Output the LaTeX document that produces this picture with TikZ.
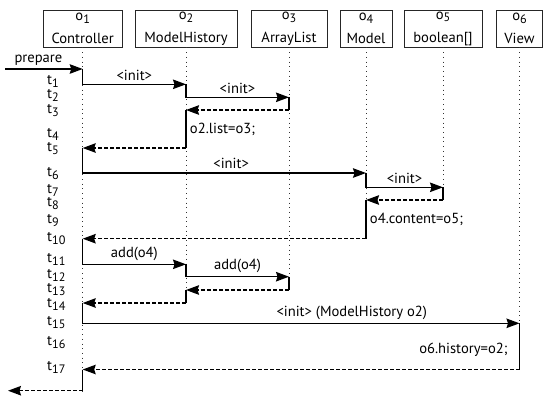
\documentclass[tikz,border=0pt]{standalone}
\usepackage{fontspec}
\setmainfont{PT Sans}
\usetikzlibrary{arrows.meta}
\newcommand{\tsub}[1]{\raisebox{-0.4ex}[0pt][0pt]{\fontsize{12.2}{12}\selectfont#1}}
\newcommand{\seqfont}{\fontsize{14.6}{23}\selectfont}

\begin{document}
\begin{tikzpicture}[x=1pt,y=-1pt,font=\seqfont,
  objbox/.style={draw=black!85,line width=0.8pt,minimum height=37pt,inner sep=0pt,align=center},
  lifeline/.style={black!80,line width=0.9pt,dash pattern=on 0.9pt off 3.8pt},
  act/.style={black,line width=1.3pt},
  call/.style={act,-{Stealth[length=13pt,width=9.5pt,inset=1.5pt]}},
  ret/.style={call,dash pattern=on 4pt off 2pt},
  tlabel/.style={anchor=west,inner sep=0pt}]
\useasboundingbox (0,0) rectangle (543,400);
\pgfmathsetmacro{\boxy}{28.5}

% objects
\node[objbox,minimum width=79pt] (o1) at (82.7,\boxy) {o\tsub{1}\\Controller};
\node[objbox,minimum width=102pt] (o2) at (186,\boxy) {o\tsub{2}\\ModelHistory};
\node[objbox,minimum width=76pt] (o3) at (289,\boxy) {o\tsub{3}\\ArrayList};
\node[objbox,minimum width=52pt] (o4) at (366,\boxy) {o\tsub{4}\\Model};
\node[objbox,minimum width=78pt] (o5) at (443,\boxy) {o\tsub{5}\\boolean[]};
\node[objbox,minimum width=46pt] (o6) at (519.5,\boxy) {o\tsub{6}\\View};

% message rows
\coordinate (in) at (5,69);
\coordinate (m0) at (0,69);
\coordinate (m1) at (0,84.3);
\coordinate (m2) at (0,97.3);
\coordinate (m3) at (0,110);
\coordinate (m5) at (0,148);
\coordinate (m6) at (0,173);
\coordinate (m7) at (0,187.3);
\coordinate (m8) at (0,200);
\coordinate (m10) at (0,238.7);
\coordinate (m11) at (0,264.3);
\coordinate (m12) at (0,276.7);
\coordinate (m13) at (0,290);
\coordinate (m14) at (0,303);
\coordinate (m15) at (0,323.3);
\coordinate (m17) at (0,369.5);
\coordinate (mend) at (0,390.7);
\coordinate (out) at (8,390.7);

% lifelines
\draw[lifeline] (o1.south) -- (o1 |- mend);
\draw[lifeline] (o2.south) -- (o2 |- m14);
\draw[lifeline] (o3.south) -- (o3 |- m13);
\draw[lifeline] (o4.south) -- (o4 |- m10);
\draw[lifeline] (o5.south) -- (o5 |- m8);
\draw[lifeline] (o6.south) -- (o6 |- m17);

% time marks
\node[tlabel] (t1) at (47,80) {t\tsub{1}};
\node[tlabel] (t2) at (47,94.5) {t\tsub{2}};
\node[tlabel] (t3) at (47,108.7) {t\tsub{3}};
\node[tlabel] (t4) at (47,132.8) {t\tsub{4}};
\node[tlabel] (t5) at (47,147.2) {t\tsub{5}};
\node[tlabel] (t6) at (47,172.5) {t\tsub{6}};
\node[tlabel] (t7) at (47,189) {t\tsub{7}};
\node[tlabel] (t8) at (47,202.5) {t\tsub{8}};
\node[tlabel] (t9) at (47,219.5) {t\tsub{9}};
\node[tlabel] (t10) at (47,237.5) {t\tsub{10}};
\node[tlabel] (t11) at (47,258) {t\tsub{11}};
\node[tlabel] (t12) at (47,274.5) {t\tsub{12}};
\node[tlabel] (t13) at (47,288.5) {t\tsub{13}};
\node[tlabel] (t14) at (47,303.5) {t\tsub{14}};
\node[tlabel] (t15) at (47,321.5) {t\tsub{15}};
\node[tlabel] (t16) at (47,341.5) {t\tsub{16}};
\node[tlabel] (t17) at (47,366.5) {t\tsub{17}};

% messages
\draw[call] (in) -- (o1 |- m0) node[pos=0.43,above] {prepare};
\draw[call] (o1 |- m0) -- (o1 |- m1) -- (o2 |- m1) node[midway,above] {<init>};
\draw[call] (o2 |- m1) -- (o2 |- m2) -- (o3 |- m2) node[midway,above] {<init>};
\draw[act] (o3 |- m2) -- (o3 |- m3);
\draw[ret] (o3 |- m3) -- (o2 |- m3);
\draw[act] (o2 |- m3) -- (o2 |- m5) node[midway,right] {o2.list=o3;};
\draw[ret] (o2 |- m5) -- (o1 |- m5);
\draw[call] (o1 |- m5) -- (o1 |- m6) -- (o4 |- m6) node[pos=0.524,above] {<init>};
\draw[call] (o4 |- m6) -- (o4 |- m7) -- (o5 |- m7) node[midway,above] {<init>};
\draw[act] (o5 |- m7) -- (o5 |- m8);
\draw[ret] (o5 |- m8) -- (o4 |- m8);
\draw[act] (o4 |- m8) -- (o4 |- m10) node[midway,right] {o4.content=o5;};
\draw[ret] (o4 |- m10) -- (o1 |- m10);
\draw[call] (o1 |- m10) -- (o1 |- m11) -- (o2 |- m11) node[midway,above] {add(o4)};
\draw[call] (o2 |- m11) -- (o2 |- m12) -- (o3 |- m12) node[midway,above] {add(o4)};
\draw[act] (o3 |- m12) -- (o3 |- m13);
\draw[ret] (o3 |- m13) -- (o2 |- m13);
\draw[act] (o2 |- m13) -- (o2 |- m14);
\draw[ret] (o2 |- m14) -- (o1 |- m14);
\draw[call] (o1 |- m14) -- (o1 |- m15) -- (o6 |- m15) node[pos=0.616,above] {<init> (ModelHistory o2)};
\draw[act] (o6 |- m15) -- (o6 |- m17) node[pos=0.58,left=8pt] {o6.history=o2;};
\draw[ret] (o6 |- m17) -- (o1 |- m17);
\draw[act] (o1 |- m17) -- (o1 |- mend);
\draw[ret] (o1 |- mend) -- (out);
\end{tikzpicture}
\end{document}
